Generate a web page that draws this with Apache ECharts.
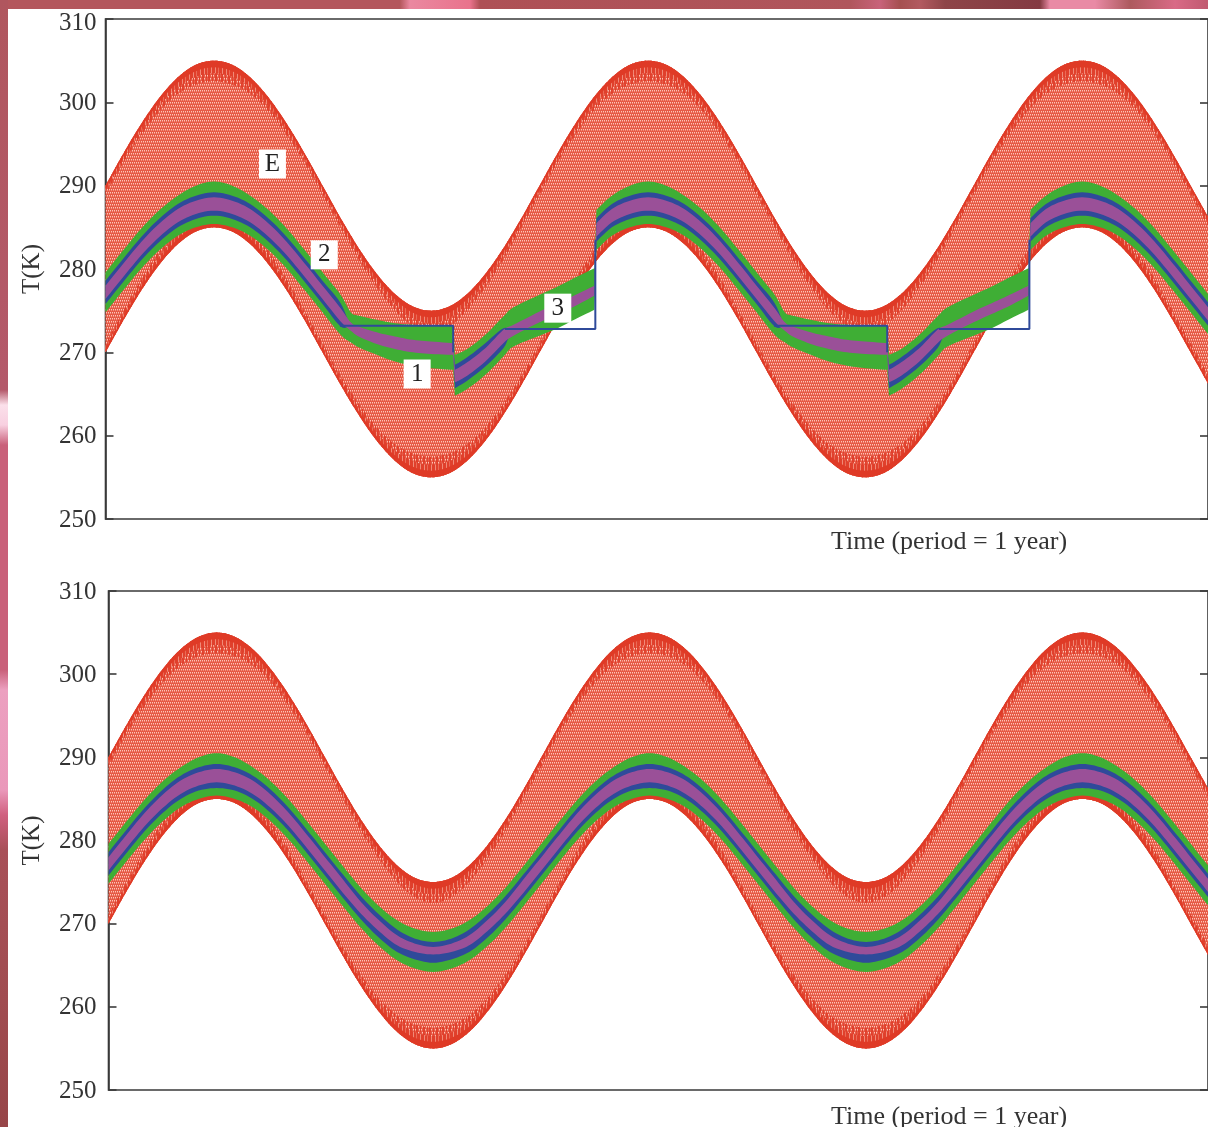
<!DOCTYPE html>
<html><head><meta charset="utf-8">
<style>
html,body{margin:0;padding:0;background:#fff;width:1208px;height:1127px;overflow:hidden}
#top{position:absolute;left:0;top:0;width:1208px;height:9px;background:linear-gradient(90deg,#b4575d 0,#b4575d 400px,#ea88a0 410px,#e9738c 470px,#ae5055 480px,#b0565c 850px,#c8627a 880px,#a55050 900px,#b25a60 920px,#8e4548 945px,#843a42 1040px,#e98aa5 1050px,#e98aa5 1095px,#ad5a5e 1130px,#d96a86 1175px,#c05a70 1208px)}
#left{position:absolute;left:0;top:0;width:8px;height:1127px;background:linear-gradient(180deg,#b0565e 0,#b4596a 390px,#fbe0ea 405px,#f8d0e0 425px,#c9607a 445px,#c9607a 670px,#eca0c0 690px,#ea98ba 790px,#d0607f 815px,#a85058 850px,#a04c50 1000px,#974548 1127px)}
#c{position:absolute;left:0;top:0;width:1208px;height:1127px;filter:blur(0.45px)}
</style></head><body>
<div id="top"></div><div id="left"></div><div id="c"></div>
<script src="https://cdn.jsdelivr.net/npm/echarts@6/dist/echarts.min.js"></script>
<script>
const yTicks = [250,260,270,280,290,300,310];
const yLabelName = 'T(K)';
const timeLabel = 'Time (period = 1 year)';

// Red envelope, shared by both panels (time in years)
const redTime = [0,0.0417,0.0833,0.125,0.1667,0.2083,0.25,0.2917,0.3333,0.375,0.4167,0.4583,0.5,0.5417,0.5833,0.625,0.6667,0.7083,0.75,0.7917,0.8333,0.875,0.9167,0.9583,
1,1.0417,1.0833,1.125,1.1667,1.2083,1.25,1.2917,1.3333,1.375,1.4167,1.4583,1.5,1.5417,1.5833,1.625,1.6667,1.7083,1.75,1.7917,1.8333,1.875,1.9167,1.9583,
2,2.0417,2.0833,2.125,2.1667,2.2083,2.25,2.2917,2.3333,2.375,2.4167,2.4583,2.5,2.5417];
const redHigh = [290,293.9,297.5,300.6,303,304.5,305,304.5,303,300.6,297.5,293.9,290,286.1,282.5,279.4,277,275.5,275,275.5,277,279.4,282.5,286.1,
290,293.9,297.5,300.6,303,304.5,305,304.5,303,300.6,297.5,293.9,290,286.1,282.5,279.4,277,275.5,275,275.5,277,279.4,282.5,286.1,
290,293.9,297.5,300.6,303,304.5,305,304.5,303,300.6,297.5,293.9,290,286.1];
const redLow = [270,273.9,277.5,280.6,283,284.5,285,284.5,283,280.6,277.5,273.9,270,266.1,262.5,259.4,257,255.5,255,255.5,257,259.4,262.5,266.1,
270,273.9,277.5,280.6,283,284.5,285,284.5,283,280.6,277.5,273.9,270,266.1,262.5,259.4,257,255.5,255,255.5,257,259.4,262.5,266.1,
270,273.9,277.5,280.6,283,284.5,285,284.5,283,280.6,277.5,273.9,270,266.1];
const redRimDepth = [0.9,0.9,1.1,1.3,1.6,1.9,2.0,1.9,1.6,1.3,1.1,0.9,0.9,0.9,1.1,1.3,1.6,1.9,2.0,1.9,1.6,1.3,1.1,0.9,
0.9,0.9,1.1,1.3,1.6,1.9,2.0,1.9,1.6,1.3,1.1,0.9,0.9,0.9,1.1,1.3,1.6,1.9,2.0,1.9,1.6,1.3,1.1,0.9,
0.9,0.9,1.1,1.3,1.6,1.9,2.0,1.9,1.6,1.3,1.1,0.9,0.9,0.9];

// Upper panel: bands 1, 2, 3 with the two jumps per year
const upTime = [0,0.0417,0.0833,0.125,0.1667,0.2083,0.25,0.2917,0.3333,0.375,0.4167,0.4583,0.5,0.5417,
0.565,0.5833,0.625,0.6667,0.7083,0.75,0.801, 0.805,0.8333,0.875,0.9167, 0.94,1,1.0417,1.0833,1.1265,
1.131,1.1667,1.2083,1.25,1.2917,1.3333,1.375,1.4167,1.4583,1.5,1.5417,
1.565,1.5833,1.625,1.6667,1.7083,1.75,1.801, 1.805,1.8333,1.875,1.9167, 1.94,2,2.0417,2.0833,2.1265,
2.131,2.1667,2.2083,2.25,2.2917,2.3333,2.375,2.4167,2.4583,2.5,2.5417];
const upGreenHigh = [279.6,282.3,284.9,287.1,288.8,290.0,290.5,290.0,288.8,287.1,284.9,282.3,279.6,276.9,
274.8,274.4,273.9,273.5,273.3,273.2,273.2, 269.7,270.4,272.1,274.3, 275.4,276.9,277.9,279.0,280.1,
287.1,288.8,290.0,290.5,290.0,288.8,287.1,284.9,282.3,279.6,276.9,
274.8,274.4,273.9,273.5,273.3,273.2,273.2, 269.7,270.4,272.1,274.3, 275.4,276.9,277.9,279.0,280.1,
287.1,288.8,290.0,290.5,290.0,288.8,287.1,284.9,282.3,279.6,276.9];
const upGreenLow = [274.8,277.5,280.1,282.3,284.0,285.0,285.4,285.0,284.0,282.3,280.1,277.5,274.8,272.1,
271.2,270.6,269.7,268.9,268.4,268.1,267.9, 264.8,265.6,267.3,269.5, 270.7,272.0,272.9,274.0,275.1,
282.3,284.0,285.0,285.4,285.0,284.0,282.3,280.1,277.5,274.8,272.1,
271.2,270.6,269.7,268.9,268.4,268.1,267.9, 264.8,265.6,267.3,269.5, 270.7,272.0,272.9,274.0,275.1,
282.3,284.0,285.0,285.4,285.0,284.0,282.3,280.1,277.5,274.8,272.1];
const upBlueHigh = [278.6,281.3,283.9,286.1,287.8,288.8,289.2,288.8,287.8,286.1,283.9,281.3,278.6,275.9,
273.1,272.5,271.7,271.1,270.7,270.5,270.4, 268.5,269.4,271.1,272.9, 272.6,274.2,275.2,276.2,277.4,
286.1,287.8,288.8,289.2,288.8,287.8,286.1,283.9,281.3,278.6,275.9,
273.1,272.5,271.7,271.1,270.7,270.5,270.4, 268.5,269.4,271.1,272.9, 272.6,274.2,275.2,276.2,277.4,
286.1,287.8,288.8,289.2,288.8,287.8,286.1,283.9,281.3,278.6,275.9];
const upBlueLow = [275.8,278.5,281.1,283.3,285.0,286.0,286.4,286.0,285.0,283.3,281.1,278.5,275.8,273.1,
273.1,272.5,271.7,271.1,270.7,270.5,270.4, 265.7,266.6,268.3,270.5, 272.6,274.2,275.2,276.2,277.4,
283.3,285.0,286.0,286.4,286.0,285.0,283.3,281.1,278.5,275.8,273.1,
273.1,272.5,271.7,271.1,270.7,270.5,270.4, 265.7,266.6,268.3,270.5, 272.6,274.2,275.2,276.2,277.4,
283.3,285.0,286.0,286.4,286.0,285.0,283.3,281.1,278.5,275.8,273.1];
const upPurpleHigh = [278.0,280.7,283.3,285.5,287.2,288.2,288.6,288.2,287.2,285.5,283.3,280.7,278.0,275.3,
273.6,273.1,272.4,271.9,271.5,271.3,271.1, 267.9,268.8,270.5,272.7, 273.3,274.9,275.9,276.9,278.0,
285.5,287.2,288.2,288.6,288.2,287.2,285.5,283.3,280.7,278.0,275.3,
273.6,273.1,272.4,271.9,271.5,271.3,271.1, 267.9,268.8,270.5,272.7, 273.3,274.9,275.9,276.9,278.0,
285.5,287.2,288.2,288.6,288.2,287.2,285.5,283.3,280.7,278.0,275.3];
const upPurpleLow = [276.4,279.1,281.7,283.9,285.6,286.6,287.0,286.6,285.6,283.9,281.7,279.1,276.4,273.7,
272.6,271.9,271.0,270.4,270.0,269.8,269.7, 266.4,267.2,268.9,271.1, 272.0,273.6,274.6,275.6,276.8,
283.9,285.6,286.6,287.0,286.6,285.6,283.9,281.7,279.1,276.4,273.7,
272.6,271.9,271.0,270.4,270.0,269.8,269.7, 266.4,267.2,268.9,271.1, 272.0,273.6,274.6,275.6,276.8,
283.9,285.6,286.6,287.0,286.6,285.6,283.9,281.7,279.1,276.4,273.7];

// Thin blue outline of the clamped stretches in the upper panel
const blueLinesTime = [[0.54,0.801,0.801],[0.92,1.1285,1.1285],[1.54,1.801,1.801],[1.92,2.1285,2.1285]];
const blueLinesTemp = [[273.2,273.2,270],[272.8,272.8,283.5],[273.2,273.2,270],[272.8,272.8,283.5]];

// Upper-panel tags
const tagNames = ['E','2','3','1'];
const tagTime = [0.3846,0.504,1.042,0.718];
const tagTemp = [292.6,281.7,275.3,267.4];

// Lower panel: continuous bands
const loTime = redTime;
const loGreenHigh = [279.6,282.3,284.9,287.1,288.8,290.0,290.5,290.0,288.8,287.1,284.9,282.3,279.6,276.9,274.3,272.1,270.4,269.4,269.0,269.4,270.4,272.1,274.3,276.9,
279.6,282.3,284.9,287.1,288.8,290.0,290.5,290.0,288.8,287.1,284.9,282.3,279.6,276.9,274.3,272.1,270.4,269.4,269.0,269.4,270.4,272.1,274.3,276.9,
279.6,282.3,284.9,287.1,288.8,290.0,290.5,290.0,288.8,287.1,284.9,282.3,279.6,276.9];
const loGreenLow = [274.8,277.5,280.1,282.3,284.0,285.0,285.4,285.0,284.0,282.3,280.1,277.5,274.8,272.1,269.5,267.3,265.6,264.6,264.2,264.6,265.6,267.3,269.5,272.1,
274.8,277.5,280.1,282.3,284.0,285.0,285.4,285.0,284.0,282.3,280.1,277.5,274.8,272.1,269.5,267.3,265.6,264.6,264.2,264.6,265.6,267.3,269.5,272.1,
274.8,277.5,280.1,282.3,284.0,285.0,285.4,285.0,284.0,282.3,280.1,277.5,274.8,272.1];
const loBlueHigh = [278.6,281.3,283.9,286.1,287.8,288.8,289.2,288.8,287.8,286.1,283.9,281.3,278.6,275.9,273.3,271.1,269.3,268.2,267.8,268.2,269.3,271.1,273.3,275.9,
278.6,281.3,283.9,286.1,287.8,288.8,289.2,288.8,287.8,286.1,283.9,281.3,278.6,275.9,273.3,271.1,269.3,268.2,267.8,268.2,269.3,271.1,273.3,275.9,
278.6,281.3,283.9,286.1,287.8,288.8,289.2,288.8,287.8,286.1,283.9,281.3,278.6,275.9];
const loBlueLow = [275.8,278.5,281.1,283.3,285.0,286.0,286.3,286.0,285.0,283.3,281.1,278.5,275.8,273.1,270.5,268.3,266.6,265.7,265.3,265.7,266.6,268.3,270.5,273.1,
275.8,278.5,281.1,283.3,285.0,286.0,286.3,286.0,285.0,283.3,281.1,278.5,275.8,273.1,270.5,268.3,266.6,265.7,265.3,265.7,266.6,268.3,270.5,273.1,
275.8,278.5,281.1,283.3,285.0,286.0,286.3,286.0,285.0,283.3,281.1,278.5,275.8,273.1];
const loPurpleHigh = [278.0,280.7,283.3,285.5,287.2,288.2,288.6,288.2,287.2,285.5,283.3,280.7,278.0,275.3,272.6,270.4,268.6,267.6,267.2,267.6,268.6,270.4,272.6,275.3,
278.0,280.7,283.3,285.5,287.2,288.2,288.6,288.2,287.2,285.5,283.3,280.7,278.0,275.3,272.6,270.4,268.6,267.6,267.2,267.6,268.6,270.4,272.6,275.3,
278.0,280.7,283.3,285.5,287.2,288.2,288.6,288.2,287.2,285.5,283.3,280.7,278.0,275.3];
const loPurpleLow = [276.4,279.1,281.7,283.9,285.6,286.6,287.0,286.6,285.6,283.9,281.7,279.1,276.4,273.7,271.2,269.1,267.4,266.6,266.3,266.6,267.4,269.1,271.2,273.7,
276.4,279.1,281.7,283.9,285.6,286.6,287.0,286.6,285.6,283.9,281.7,279.1,276.4,273.7,271.2,269.1,267.4,266.6,266.3,266.6,267.4,269.1,271.2,273.7,
276.4,279.1,281.7,283.9,285.6,286.6,287.0,286.6,285.6,283.9,281.7,279.1,276.4,273.7];

// ---- Fill textures (style only)
function makeTile(w,h,base,draw){
  const c=document.createElement('canvas');c.width=w;c.height=h;
  const g=c.getContext('2d');
  if(base){g.fillStyle=base;g.fillRect(0,0,w,h);}
  draw(g);
  return {image:c,repeat:'repeat'};
}
const hatch = makeTile(12,12,'#e65a46',g=>{
  g.fillStyle='#fdc4b6';
  for(let r=0;r<4;r++){
    const y=r*3, off=r%2;
    for(let x=off;x<12;x+=2){g.fillRect(x,y,1,1.5);}
  }
});
const rimOuter = makeTile(11,4,'#e0402c',g=>{
  g.fillStyle='#f08a78';g.fillRect(2,0,1,4);g.fillRect(6,0,1,4);
  g.fillStyle='#ea6a56';g.fillRect(9,0,1,4);
});
const rimInner = makeTile(13,4,null,g=>{
  g.fillStyle='rgba(222,58,38,0.85)';
  g.fillRect(0,0,2,4);g.fillRect(4,0,1,4);g.fillRect(7,0,2,4);g.fillRect(11,0,1,4);
});

const RED_SOLID='#df3a26', GREEN='#3fae35', BLUE='#2f4a9a', PURPLE='#9a5098', INK='#3a3a3a';

// Draws an edge through the scaled points as a smooth curve, keeping jumps sharp
function smoothEdge(pts){
  const out=[];
  const jump=(a,b)=>Math.abs(a[0]-b[0])<3;
  for(let i=0;i<pts.length-1;i++){
    const p1=pts[i],p2=pts[i+1];
    out.push(p1);
    if(jump(p1,p2))continue;
    const p0=(i>0&&!jump(pts[i-1],p1))?pts[i-1]:p1;
    const p3=(i+2<pts.length&&!jump(p2,pts[i+2]))?pts[i+2]:p2;
    for(let s=1;s<6;s++){
      const u=s/6,u2=u*u,u3=u2*u;
      out.push([0,1].map(d=>0.5*(2*p1[d]+(p2[d]-p0[d])*u+(2*p0[d]-5*p1[d]+4*p2[d]-p3[d])*u2+(3*p1[d]-p0[d]-3*p2[d]+p3[d])*u3)));
    }
  }
  out.push(pts[pts.length-1]);
  return out;
}
function band(idx,times,hi,lo,fill){
  return {type:'custom',xAxisIndex:idx,yAxisIndex:idx*2,clip:true,silent:true,data:[[0,0]],
    renderItem(p,api){
      const up=times.map((t,i)=>api.coord([t,hi[i]]));
      const dn=times.map((t,i)=>api.coord([t,lo[i]]));
      const pts=smoothEdge(up).concat(smoothEdge(dn).reverse());
      return {type:'polygon',shape:{points:pts},style:{fill:fill}};
    }};
}
const scaled=(a,f)=>a.map(v=>v*f);
const minus=(a,b)=>a.map((v,i)=>v-b[i]);
const plus=(a,b)=>a.map((v,i)=>v+b[i]);
function redSet(idx){
  const solid=scaled(redRimDepth,0.4), mid=scaled(redRimDepth,0.75), deep=scaled(redRimDepth,1.25);
  return [
    band(idx,redTime,redHigh,redLow,hatch),
    band(idx,redTime,redHigh,minus(redHigh,deep),rimInner),
    band(idx,redTime,plus(redLow,deep),redLow,rimInner),
    band(idx,redTime,redHigh,minus(redHigh,mid),rimOuter),
    band(idx,redTime,plus(redLow,mid),redLow,rimOuter),
    band(idx,redTime,redHigh,minus(redHigh,solid),RED_SOLID),
    band(idx,redTime,plus(redLow,solid),redLow,RED_SOLID)
  ];
}
const series=[
  ...redSet(0),
  band(0,upTime,upGreenHigh,upGreenLow,GREEN),
  band(0,upTime,upBlueHigh,upBlueLow,BLUE),
  band(0,upTime,upPurpleHigh,upPurpleLow,PURPLE),
  ...blueLinesTime.map((ts,i)=>({type:'line',xAxisIndex:0,yAxisIndex:0,silent:true,symbol:'none',
      data:ts.map((t,j)=>[t,blueLinesTemp[i][j]]),lineStyle:{color:BLUE,width:2}})),
  {type:'scatter',xAxisIndex:0,yAxisIndex:0,silent:true,symbol:'rect',symbolSize:[27,29],
    itemStyle:{color:'#fff',opacity:1},
    data:tagNames.map((n,i)=>({name:n,value:[tagTime[i],tagTemp[i]]})),
    label:{show:true,position:'inside',formatter:'{b}',color:'#222',fontFamily:'Liberation Serif',fontSize:25}},
  ...redSet(1),
  band(1,loTime,loGreenHigh,loGreenLow,GREEN),
  band(1,loTime,loBlueHigh,loBlueLow,BLUE),
  band(1,loTime,loPurpleHigh,loPurpleLow,PURPLE)
];

function xAxis(g){return {type:'value',gridIndex:g,min:0,max:2.54,axisLabel:{show:false},axisTick:{show:false},splitLine:{show:false},axisLine:{show:false}};}
function yAxes(g){
  const common={type:'value',gridIndex:g,min:yTicks[0],max:yTicks[yTicks.length-1],interval:10,splitLine:{show:false},
    axisTick:{show:true,inside:true,length:8,lineStyle:{color:INK,width:1.6}}};
  const tickStyle={fontFamily:'Liberation Serif',fontSize:25,color:'#333'};
  return [
   {...common,position:'left',name:yLabelName,nameLocation:'middle',nameGap:g?64:61,nameRotate:90,
     nameTextStyle:{fontFamily:'Liberation Serif',fontSize:25,color:'#333'},
     axisLine:{show:true,lineStyle:{color:INK,width:1.6}},
     axisLabel:{margin:g?12:9,
       formatter:v=>(g===0&&v===310)?'{b|'+v+'}':'{a|'+v+'}',
       rich:{a:{...tickStyle,padding:[2,0,0,0]},b:{...tickStyle,padding:[9,0,0,0]}}}},
   {...common,position:'right',axisLabel:{show:false},axisLine:{show:false}}
  ];
}
const chart=echarts.init(document.getElementById('c'),null,{renderer:'canvas'});
const titleStyle={fontFamily:'Liberation Serif',fontSize:26,fontWeight:'normal',color:'#333'};
chart.setOption({
  animation:false,backgroundColor:'transparent',
  grid:[
    {left:105.5,top:19,width:1105,height:500,show:true,backgroundColor:'#fff',borderColor:INK,borderWidth:1.6},
    {left:108.5,top:591,width:1106,height:499,show:true,backgroundColor:'#fff',borderColor:INK,borderWidth:1.6}
  ],
  xAxis:[xAxis(0),xAxis(1)],
  yAxis:[...yAxes(0),...yAxes(1)],
  title:[
    {text:timeLabel,left:831,top:529,padding:0,textStyle:titleStyle},
    {text:timeLabel,left:831,top:1104,padding:0,textStyle:titleStyle}
  ],
  series
});
</script></body></html>
